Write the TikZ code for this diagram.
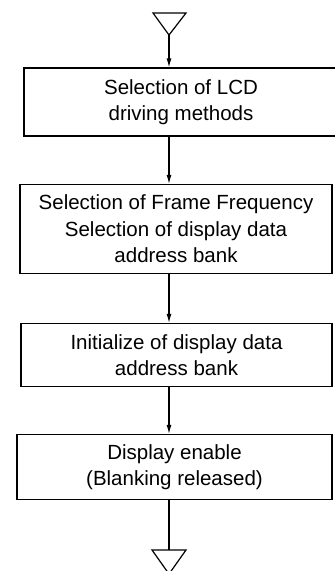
\documentclass[tikz,border=0pt]{standalone}
\usepackage{fontspec}
\setmainfont{Liberation Sans}
\usetikzlibrary{arrows.meta}

\begin{document}
\begin{tikzpicture}[x=1pt, y=-1pt, >={Latex[length=9pt,width=5pt]}, line width=1.2pt,
    stepbox/.style={draw, rectangle, align=center, inner sep=0pt,
        font=\fontsize{20.5}{26.5}\selectfont}]
            \useasboundingbox (0,0) rectangle (335,571);

            % terminals
            \draw (153,13) -- (186,13) -- (169,35) -- cycle;
            \coordinate (in) at (169,35);
            \draw (152,550) -- (186,550) -- (169,574) -- cycle;
            \coordinate (out) at (169,550);

            % steps
            \node[stepbox, minimum width=314pt, minimum height=68pt] (lcd) at (181,102)
                {Selection of LCD\\driving methods};
            \node[stepbox, minimum width=312pt, minimum height=89pt] (frame) at (176,229)
                {Selection of Frame Frequency\\Selection of display data\\address bank};
            \node[stepbox, minimum width=311pt, minimum height=63pt] (init) at (176.5,355)
                {Initialize of display data\\address bank};
            \node[stepbox, minimum width=315pt, minimum height=65pt] (disp) at (174.5,467)
                {Display enable\\(Blanking released)};

            % flow
            \draw[->] (in) -- (in |- lcd.north);
            \draw[->] (lcd.south -| in) -- (frame.north -| in);
            \draw[->] (frame.south -| in) -- (init.north -| in);
            \draw[->] (init.south -| in) -- (disp.north -| in);
            \draw (disp.south -| out) -- (out);
\end{tikzpicture}
\end{document}
